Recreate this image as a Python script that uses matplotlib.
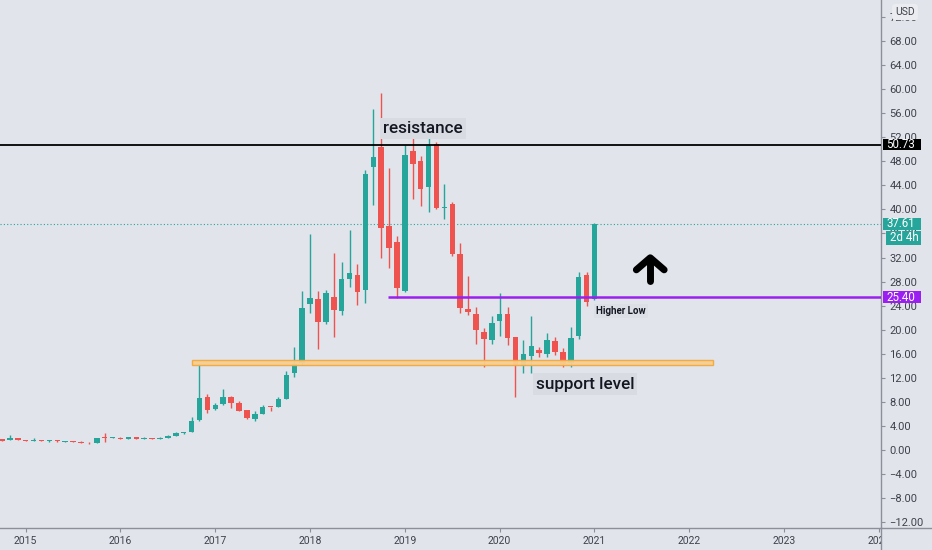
import numpy as np
import pandas as pd
import matplotlib
matplotlib.use('Agg')
import matplotlib.pyplot as plt
import matplotlib.transforms as mtransforms
from matplotlib.patches import Rectangle
from matplotlib.lines import Line2D
from matplotlib.ticker import FuncFormatter

# Velas mensuales, oct 2014 - ene 2021
meses = pd.period_range('2014-10', '2021-01', freq='M')

apertura = [1.83, 1.66, 1.94, 1.66, 1.50, 1.62, 1.44, 1.55, 1.39, 1.44, 1.39, 1.22,
            1.11, 2.11, 2.00, 2.05, 1.83, 2.11, 1.88, 1.94, 1.83, 2.00, 2.38, 2.77,
            2.99, 4.93, 8.86, 6.76, 7.60, 8.76, 7.87, 6.60, 5.20, 6.04, 7.20, 7.15,
            8.53, 12.75, 14.40, 24.27, 25.05, 21.23, 25.38, 23.10, 28.48, 29.10, 26.60, 47.10,
            50.30, 37.30, 34.50, 26.40, 49.76, 48.00, 43.70, 50.80, 40.30, 40.90, 32.60, 23.50,
            22.60, 19.67, 18.29, 21.50, 22.60, 18.84, 14.00, 15.63, 16.60, 15.96, 18.18, 16.35,
            14.40, 18.95, 29.04, 25.05]
maximo = [1.88, 2.49, 2.00, 1.72, 1.94, 1.66, 1.60, 1.60, 1.55, 1.50, 1.45, 1.30,
          2.00, 2.77, 2.20, 2.11, 2.20, 2.20, 2.15, 2.00, 2.11, 2.50, 3.05, 3.00,
          5.43, 14.30, 9.30, 7.87, 10.10, 8.90, 8.15, 6.70, 6.53, 7.43, 7.22, 8.76,
          13.13, 17.07, 26.50, 35.90, 26.50, 26.60, 32.80, 31.30, 36.60, 31.00, 46.55, 56.70,
          59.40, 46.80, 35.50, 50.70, 51.80, 48.90, 52.60, 51.20, 44.20, 41.20, 34.40, 28.90,
          23.70, 20.20, 22.30, 26.05, 23.80, 18.84, 18.29, 22.20, 17.20, 19.50, 18.85, 16.90,
          20.50, 29.64, 29.64, 37.70]
minimo = [1.50, 1.60, 1.60, 1.50, 1.45, 1.45, 1.40, 1.40, 1.35, 1.30, 1.10, 1.02,
          1.08, 1.39, 1.94, 1.77, 1.77, 1.83, 1.80, 1.77, 1.80, 1.94, 2.33, 2.70,
          2.94, 4.80, 6.20, 6.60, 7.50, 6.93, 6.40, 5.20, 4.77, 5.95, 6.53, 7.10,
          8.40, 12.20, 14.20, 22.70, 16.74, 21.00, 18.84, 22.44, 27.15, 24.10, 24.40, 40.70,
          31.90, 30.30, 25.20, 26.27, 41.70, 40.60, 39.60, 40.00, 38.35, 32.20, 22.70, 22.44,
          17.70, 13.85, 17.70, 19.00, 17.46, 8.86, 12.75, 12.86, 15.40, 15.50, 15.80, 13.85,
          13.85, 18.40, 23.94, 24.90]
cierre = [1.55, 1.94, 1.66, 1.55, 1.66, 1.50, 1.55, 1.44, 1.50, 1.33, 1.15, 1.08,
          1.94, 2.00, 2.11, 1.83, 2.11, 1.88, 2.05, 1.83, 2.05, 2.38, 2.77, 2.94,
          4.77, 8.70, 6.65, 7.48, 8.76, 7.87, 6.53, 5.27, 5.98, 7.15, 7.10, 8.43,
          12.52, 14.24, 23.66, 25.20, 21.23, 26.15, 23.28, 28.37, 29.37, 26.27, 45.80, 48.76,
          36.96, 33.50, 26.90, 49.00, 47.55, 43.45, 50.60, 40.30, 40.45, 32.60, 23.55, 22.90,
          19.95, 18.40, 21.06, 22.56, 18.67, 14.13, 15.96, 17.34, 16.07, 18.29, 16.35, 14.24,
          18.67, 28.80, 24.65, 37.61]

# Niveles dibujados
resistencia = 50.73
ultimo = 37.61
minimo_mayor = 25.40
soporte_bajo, soporte_alto = 14.10, 14.96
anios = list(range(2015, 2025))
precios_eje = list(range(-12, 73, 4))

FONDO = '#e1e4ea'
VERDE = '#26a69a'
ROJO = '#ef5350'
MORADO = '#9b1ff0'
GRIS = '#3f424c'
LINEA_EJE = '#8c8f99'


def crear_grafico():
    plt.rcParams['font.family'] = ['Roboto', 'DejaVu Sans']

    fig = plt.figure(figsize=(9.32, 5.5), dpi=100, facecolor=FONDO)
    ax = fig.add_axes([0, 22 / 550, 881 / 932, 528 / 550])
    ax.set_facecolor(FONDO)

    x = np.array([(p.year - 2015) * 12 + p.month - 1 for p in meses])
    o = np.array(apertura)
    h = np.array(maximo)
    l = np.array(minimo)
    c = np.array(cierre)
    colores = np.where(c >= o, VERDE, ROJO)

    # Mechas y cuerpos
    ax.vlines(x, l, h, colors=colores, lw=1.0, zorder=2)
    ax.bar(x, np.maximum(np.abs(c - o), 0.15), bottom=np.minimum(o, c),
           width=0.7, color=colores, zorder=3)

    # Lineas horizontales
    ax.axhline(resistencia, color='black', lw=1.3, zorder=4)
    ax.axhline(ultimo, color=VERDE, lw=0.8, ls=(0, (1, 2)), zorder=1)
    ax.hlines(minimo_mayor, 45.9, 115, color=MORADO, lw=1.8, zorder=4)

    # Zona de soporte
    ax.add_patch(Rectangle((21, soporte_bajo), 66, soporte_alto - soporte_bajo,
                           facecolor='#f6cf94', edgecolor='#f2a93b', lw=1,
                           alpha=0.95, zorder=4))

    # Textos
    caja = dict(boxstyle='square,pad=0.18', facecolor='#d8dbe1', edgecolor='none')
    ax.text(50.3, 53.5, 'resistance', fontsize=12.3, fontweight='medium',
            color='#131722', ha='center', va='center', bbox=caja, zorder=6)
    ax.text(70.8, 10.97, 'support level', fontsize=12.3, fontweight='medium',
            color='#131722', ha='center', va='center', bbox=caja, zorder=6)
    ax.text(72.2, 23.1, 'Higher Low', fontsize=7, fontweight='bold',
            color='#131722', ha='left', va='center',
            bbox=dict(boxstyle='square,pad=0.2', facecolor='#dcdfe5', edgecolor='none'),
            zorder=6)

    # Flecha hacia arriba
    ax.plot([77.3, 79.06, 80.82], [29.95, 31.95, 29.95], color='black', lw=5,
            solid_capstyle='round', solid_joinstyle='round', zorder=6)
    ax.plot([79.06, 79.06], [31.6, 28.1], color='black', lw=5,
            solid_capstyle='round', zorder=6)

    ax.set_xlim(-3.25, 108.27)
    ax.set_ylim(-12.97, 74.81)

    # Ejes
    for lado in ['top', 'left']:
        ax.spines[lado].set_visible(False)
    for lado in ['right', 'bottom']:
        ax.spines[lado].set_color(LINEA_EJE)
        ax.spines[lado].set_linewidth(1)

    ax.yaxis.tick_right()
    ax.set_yticks(precios_eje)
    ax.yaxis.set_major_formatter(FuncFormatter(lambda v, p: f'{v:.2f}'.replace('-', '\u2212')))
    ax.tick_params(axis='y', length=3, pad=3, labelsize=8, colors=LINEA_EJE,
                   labelcolor=GRIS)
    ax.set_xticks([(a - 2015) * 12 for a in anios])
    ax.set_xticklabels([str(a) for a in anios])
    ax.tick_params(axis='x', length=3, pad=3, labelsize=7.5, colors=LINEA_EJE,
                   labelcolor=GRIS)

    # Etiquetas de precio a la derecha (caja en pixeles de figura x, precio y)
    trans = mtransforms.blended_transform_factory(fig.transFigure, ax.transData)
    px_precio = 528 / (74.81 + 12.97)
    etiquetas = [(resistencia, '50.73', 'black', 883, 11),
                 (ultimo, '37.61', VERDE, 883, 12),
                 (35.25, '2d 4h', VERDE, 886, 14),
                 (minimo_mayor, '25.40', MORADO, 883, 12.5)]
    for y, texto, color, px, alto in etiquetas:
        ax.add_patch(Rectangle((px / 932, y - alto / 2 / px_precio), (921 - px) / 932,
                               alto / px_precio, transform=trans, facecolor=color,
                               edgecolor='none', clip_on=False, zorder=7))
        ax.text((px + 3.5) / 932, y, texto, transform=trans, fontsize=8.3, color='white',
                ha='left', va='center', clip_on=False, zorder=8)

    fig.text(905 / 932, 1 - 12 / 550, 'USD', fontsize=7.5, color=GRIS,
             ha='center', va='center', zorder=8,
             bbox=dict(boxstyle='round,pad=0.3', facecolor='#eaecf0', edgecolor='none'))

    # Esquina inferior derecha
    fig.add_artist(Rectangle((881 / 932, 0), 1 - 881 / 932, 21.5 / 550,
                             transform=fig.transFigure, facecolor=FONDO,
                             edgecolor='none', zorder=5))
    fig.add_artist(Line2D([881 / 932, 1], [22 / 550, 22 / 550], transform=fig.transFigure,
                          color=LINEA_EJE, lw=1, zorder=6))
    fig.add_artist(Line2D([881 / 932, 881 / 932], [0, 22 / 550], transform=fig.transFigure,
                          color=LINEA_EJE, lw=1, zorder=6))

    fig.savefig('out.png', dpi=100, facecolor=FONDO)


if __name__ == "__main__":
    crear_grafico()
